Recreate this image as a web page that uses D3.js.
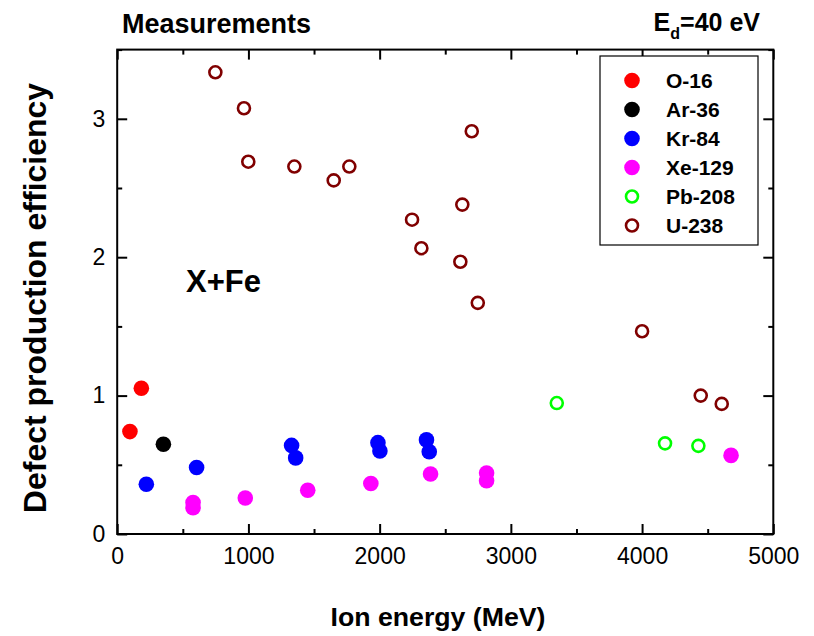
<!DOCTYPE html>
<html><head><meta charset="utf-8">
<script src="https://cdn.jsdelivr.net/npm/d3@7/dist/d3.min.js"></script>
<style>
body{margin:0;background:#fff;}
text{font-family:"Liberation Sans",Arial,sans-serif;}
</style></head>
<body><svg id="c" width="814" height="636"></svg>
<script>
// ---- data ----
const seriesNames = ["O-16","Ar-36","Kr-84","Xe-129","Pb-208","U-238"];
const O16_E = [97, 184];
const O16_V = [0.74, 1.053];
const Ar36_E = [352];
const Ar36_V = [0.649];
const Kr84_E = [222, 605, 1329, 1360, 1987, 2002, 2357, 2378];
const Kr84_V = [0.36, 0.48, 0.64, 0.55, 0.66, 0.60, 0.68, 0.595];
const Xe129_E = [578, 578, 976, 1452, 1933, 2388, 2815, 2815, 4678];
const Xe129_V = [0.227, 0.19, 0.26, 0.316, 0.365, 0.433, 0.44, 0.385, 0.568];
const Pb208_E = [3350, 4175, 4429];
const Pb208_V = [0.946, 0.655, 0.637];
const U238_E = [748, 966, 999, 1350, 1650, 1769, 2247, 2318, 2615, 2630, 2702, 2748, 4000, 4447, 4607];
const U238_V = [3.336, 3.076, 2.69, 2.655, 2.555, 2.655, 2.271, 2.065, 1.967, 2.38, 2.91, 1.67, 1.465, 1.0, 0.94];
const xTicks = [0, 1000, 2000, 3000, 4000, 5000];
const xMinor = [500, 1500, 2500, 3500, 4500];
const yTicks = [0, 1, 2, 3];
const yMinor = [0.5, 1.5, 2.5, 3.5];

const series = [
  {name:"O-16",  E:O16_E,  V:O16_V,  color:"#ff0000", open:false},
  {name:"Ar-36", E:Ar36_E, V:Ar36_V, color:"#000000", open:false},
  {name:"Kr-84", E:Kr84_E, V:Kr84_V, color:"#0000ff", open:false},
  {name:"Xe-129",E:Xe129_E,V:Xe129_V,color:"#ff00ff", open:false},
  {name:"Pb-208",E:Pb208_E,V:Pb208_V,color:"#00ff00", open:true},
  {name:"U-238", E:U238_E, V:U238_V, color:"#800000", open:true}
];

const svg = d3.select("#c");
const L=117.2, R=773.3, T=49.6, B=534;
const x = d3.scaleLinear().domain([0,5000]).range([L,R]);
const y = d3.scaleLinear().domain([0,3.5]).range([B,T]);

function styleAxis(g){
  g.selectAll(".domain").remove();
  g.selectAll("line").attr("stroke","#000").attr("stroke-width",2);
  g.selectAll("text").attr("font-size",23).attr("fill","#000");
}
// major axes
svg.append("g").attr("transform",`translate(0,${B})`)
  .call(d3.axisBottom(x).tickValues(xTicks).tickSizeInner(-10).tickSizeOuter(0).tickPadding(14).tickFormat(d3.format("d")))
  .call(styleAxis);
svg.append("g").attr("transform",`translate(${L},0)`)
  .call(d3.axisLeft(y).tickValues(yTicks).tickSizeInner(-10).tickSizeOuter(0).tickPadding(12).tickFormat(d3.format("d")))
  .call(styleAxis);
svg.append("g").attr("transform",`translate(0,${T})`)
  .call(d3.axisTop(x).tickValues(xTicks).tickSizeInner(-10).tickSizeOuter(0).tickFormat(""))
  .call(styleAxis);
svg.append("g").attr("transform",`translate(${R},0)`)
  .call(d3.axisRight(y).tickValues(yTicks).tickSizeInner(-10).tickSizeOuter(0).tickFormat(""))
  .call(styleAxis);
// minor
svg.append("g").attr("transform",`translate(0,${B})`)
  .call(d3.axisBottom(x).tickValues(xMinor).tickSizeInner(-5).tickSizeOuter(0).tickFormat("")).call(styleAxis);
svg.append("g").attr("transform",`translate(0,${T})`)
  .call(d3.axisTop(x).tickValues(xMinor).tickSizeInner(-5).tickSizeOuter(0).tickFormat("")).call(styleAxis);
svg.append("g").attr("transform",`translate(${L},0)`)
  .call(d3.axisLeft(y).tickValues(yMinor).tickSizeInner(-5).tickSizeOuter(0).tickFormat("")).call(styleAxis);
svg.append("g").attr("transform",`translate(${R},0)`)
  .call(d3.axisRight(y).tickValues(yMinor).tickSizeInner(-5).tickSizeOuter(0).tickFormat("")).call(styleAxis);

// frame
svg.append("rect").attr("x",L).attr("y",T).attr("width",R-L).attr("height",B-T)
  .attr("fill","none").attr("stroke","#000").attr("stroke-width",2);

// points
series.forEach(s=>{
  const pts = s.E.map((e,i)=>[e,s.V[i]]);
  svg.append("g").selectAll("circle").data(pts).join("circle")
    .attr("cx",d=>x(d[0])).attr("cy",d=>y(d[1]))
    .attr("r", s.open?6:7.8)
    .attr("fill", s.open?"none":s.color)
    .attr("stroke", s.open?s.color:"none")
    .attr("stroke-width", s.open?2.6:0);
});

// legend
const lg = svg.append("g");
lg.append("rect").attr("x",600).attr("y",56).attr("width",158).attr("height",189)
  .attr("fill","#fff").attr("stroke","#000").attr("stroke-width",1.2);
series.forEach((s,i)=>{
  const cy = 80.5 + i*29;
  lg.append("circle").attr("cx",632).attr("cy",cy).attr("r", s.open?6:7.8)
    .attr("fill", s.open?"none":s.color).attr("stroke", s.open?s.color:"none")
    .attr("stroke-width", s.open?2.6:0);
  lg.append("text").attr("x",666).attr("y",cy+7.5).attr("font-size",21).attr("font-weight","bold")
    .text(s.name);
});

// labels
svg.append("text").attr("x",122).attr("y",33).attr("font-size",27).attr("font-weight","bold").text("Measurements");
const ed = svg.append("text").attr("x",760).attr("y",31).attr("font-size",25).attr("font-weight","bold").attr("text-anchor","end");
ed.append("tspan").text("E");
ed.append("tspan").attr("font-size",16).attr("dy",8).text("d");
ed.append("tspan").attr("dy",-8).text("=40 eV");
svg.append("text").attr("x",186).attr("y",292).attr("font-size",31).attr("font-weight","bold").text("X+Fe");
svg.append("text").attr("x",438).attr("y",626).attr("font-size",26.7).attr("font-weight","bold")
  .attr("text-anchor","middle").text("Ion energy (MeV)");
svg.append("text").attr("transform","translate(46,298) rotate(-90)").attr("font-size",32).attr("font-weight","bold")
  .attr("text-anchor","middle").text("Defect production efficiency");
</script></body></html>
